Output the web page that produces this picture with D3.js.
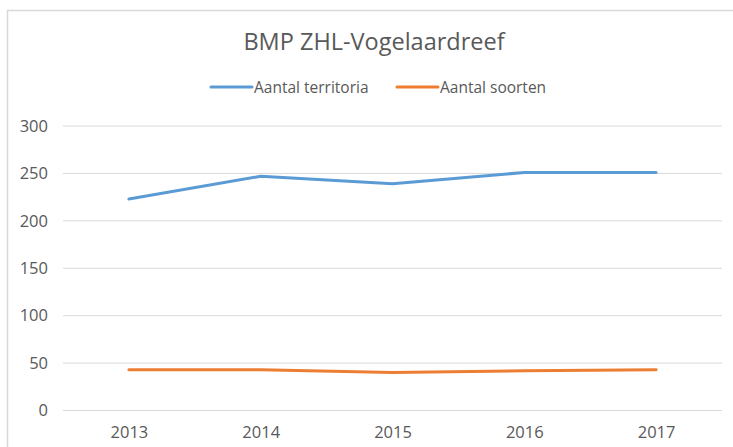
<!DOCTYPE html>
<html>
<head>
<meta charset="utf-8">
<script src="https://cdn.jsdelivr.net/npm/d3@7"></script>
<style>
  body { margin: 0; background: #fff; }
  svg { display: block; }
  .tick text { font-family: "Open Sans", sans-serif; fill: #595959; }
</style>
</head>
<body>
<div id="chart"></div>
<script>
// chart data
var years = ["2013", "2014", "2015", "2016", "2017"];
var territoria = [223, 247, 239, 251, 251];
var soorten = [43, 43, 40, 42, 43];
var yTicks = [0, 50, 100, 150, 200, 250, 300];
var seriesNames = ["Aantal territoria", "Aantal soorten"];
var colors = ["#5b9bd5", "#ed7d31"];

var svgWidth = 733;
var svgHeight = 447;

var margin = { top: 126, right: 11, bottom: 36, left: 63 };
var width = svgWidth - margin.left - margin.right;
var height = 410.5 - margin.top;

var svg = d3.select("#chart")
  .append("svg")
  .attr("width", svgWidth)
  .attr("height", svgHeight);

// chart frame
svg.append("rect")
  .attr("x", 7.5)
  .attr("y", 10.5)
  .attr("width", 740)
  .attr("height", 450)
  .attr("fill", "#fff")
  .attr("stroke", "#d9d9d9")
  .attr("stroke-width", 1.5);

var chartGroup = svg.append("g")
  .attr("transform", `translate(${margin.left}, ${margin.top})`);

var xScale = d3.scalePoint()
  .domain(years)
  .range([0, width])
  .padding(0.5);

var yScale = d3.scaleLinear()
  .domain([0, 300])
  .range([height, 0]);

// gridlines
chartGroup.selectAll(".grid")
  .data(yTicks)
  .enter()
  .append("line")
  .attr("class", "grid")
  .attr("x1", 0)
  .attr("x2", width)
  .attr("y1", d => yScale(d))
  .attr("y2", d => yScale(d))
  .attr("stroke", "#d9d9d9")
  .attr("stroke-width", 1);

// y axis (labels only)
var yAxis = chartGroup.append("g")
  .call(d3.axisLeft(yScale).tickValues(yTicks).tickSize(0).tickPadding(15));
yAxis.select(".domain").remove();
yAxis.selectAll("text").style("font-size", "16.5px");

// x axis (labels only)
var xAxis = chartGroup.append("g")
  .attr("transform", `translate(0, ${height})`)
  .call(d3.axisBottom(xScale).tickSize(0).tickPadding(16));
xAxis.select(".domain").remove();
xAxis.selectAll("text").style("font-size", "16.5px");

// lines
var line = d3.line()
  .x((d, i) => xScale(years[i]))
  .y(d => yScale(d));

[territoria, soorten].forEach(function(values, i) {
  chartGroup.append("path")
    .datum(values)
    .attr("d", line)
    .attr("fill", "none")
    .attr("stroke", colors[i])
    .attr("stroke-width", 3)
    .attr("stroke-linejoin", "round")
    .attr("stroke-linecap", "round");
});

// title
svg.append("text")
  .attr("x", 374)
  .attr("y", 50)
  .attr("text-anchor", "middle")
  .style("font-family", "Open Sans, sans-serif")
  .style("font-size", "23.5px")
  .attr("fill", "#595959")
  .text("BMP ZHL-Vogelaardreef");

// legend
var legendX = [211, 397];
seriesNames.forEach(function(name, i) {
  var g = svg.append("g").attr("transform", `translate(${legendX[i]}, 87)`);
  g.append("line")
    .attr("x1", 0)
    .attr("x2", 41)
    .attr("stroke", colors[i])
    .attr("stroke-width", 3)
    .attr("stroke-linecap", "round");
  g.append("text")
    .attr("x", 43)
    .attr("y", 5.5)
    .style("font-family", "Open Sans, sans-serif")
    .style("font-size", "15.5px")
    .attr("fill", "#595959")
    .text(name);
});
</script>
</body>
</html>
